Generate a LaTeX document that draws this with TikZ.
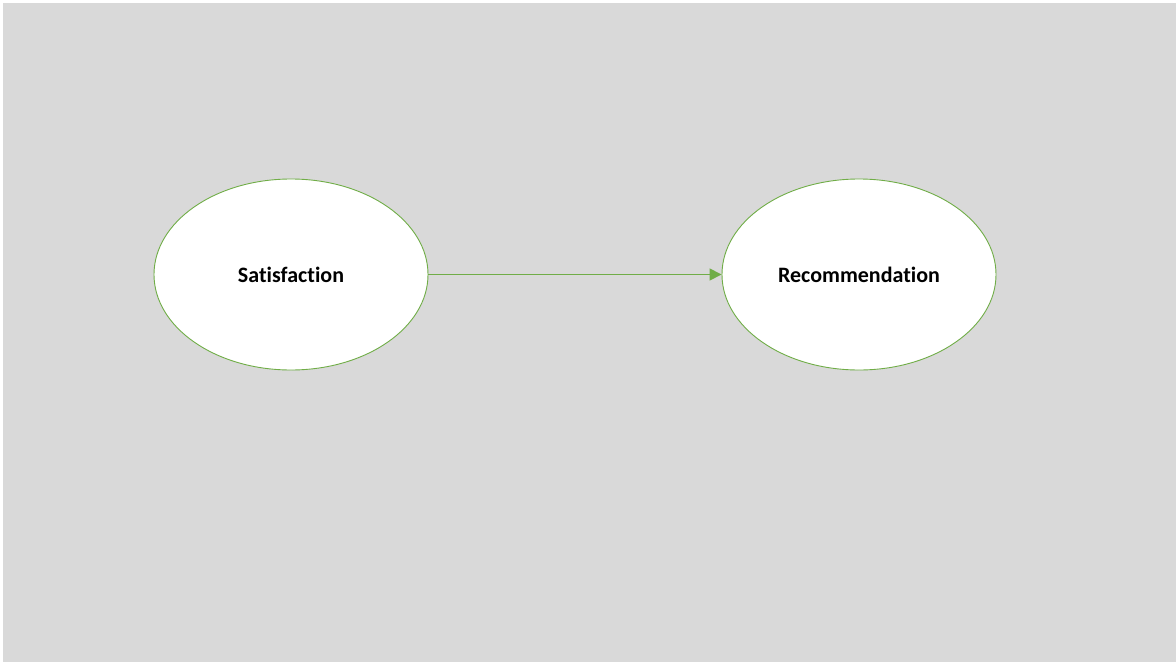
\documentclass[tikz,border=0pt]{standalone}
\usepackage{fontspec}
\setmainfont[Ligatures=NoCommon]{Carlito}
\usetikzlibrary{shapes.geometric,arrows.meta}
\definecolor{bggray}{HTML}{D9D9D9}
\definecolor{edgegreen}{HTML}{70AD47}
\tikzset{
  construct/.style={ellipse, draw=edgegreen, line width=0.9pt, fill=white,
    minimum width=274pt, minimum height=191pt, inner sep=0pt,
    font=\fontsize{22}{26}\selectfont\bfseries},
  path link/.style={draw=edgegreen, line width=1.6pt,
    -{Triangle[length=12pt,width=12pt]}}
}
\begin{document}
\begin{tikzpicture}[x=1pt,y=-1pt]
  \useasboundingbox[fill=white] (0,0) rectangle (1176,662);
  \fill[bggray] (3,3) rectangle (1176,662);
  \node[construct] (sat) at (291,274.5) {Satisfaction};
  \node[construct] (rec) at (859,274.5) {Recommendation};
  \draw[path link] (sat.east) -- (rec.west);
\end{tikzpicture}
\end{document}
